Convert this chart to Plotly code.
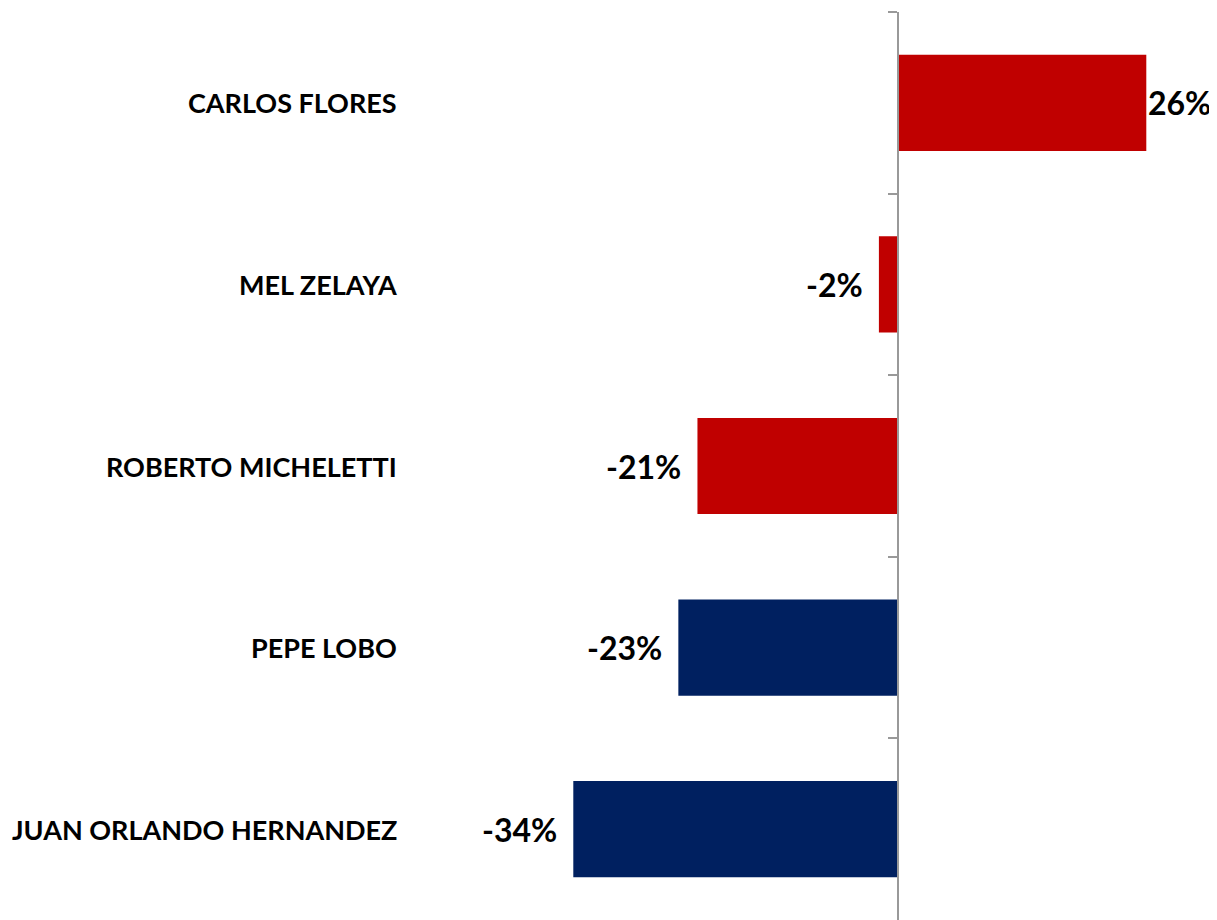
import plotly.graph_objects as go

names = ["CARLOS FLORES", "MEL ZELAYA", "ROBERTO MICHELETTI", "PEPE LOBO", "JUAN ORLANDO HERNANDEZ"]
values = [26, -2, -21, -23, -34]
colors = ["#C00000", "#C00000", "#C00000", "#002060", "#002060"]

# the page body has an 8px margin, so the figure is drawn a bit smaller
OFF = 8
W, H = 1217 - OFF, 920 - OFF
zero_px = 898 - OFF
px_per = 9.55
xmin = -zero_px / px_per
xmax = (W - zero_px) / px_per

fig = go.Figure(go.Bar(
    y=names, x=values, orientation="h",
    marker=dict(color=colors, line=dict(width=0)),
    hoverinfo="skip",
))

# value labels
for n, v in zip(names, values):
    fig.add_annotation(
        x=v, y=n, xref="x", yref="y",
        text="<b>%d%%</b>" % v,
        showarrow=False,
        xanchor="left" if v > 0 else "right",
        xshift=0 if v > 0 else -14,
        font=dict(family="Lato", size=32, color="#000000"),
    )

# category labels on the left
for n in names:
    fig.add_annotation(
        x=(399 - OFF) / W, y=n, xref="paper", yref="y",
        text="<b>%s</b>" % n,
        showarrow=False, xanchor="right",
        font=dict(family="Lato", size=27, color="#000000"),
    )

fig.update_layout(
    width=W, height=H,
    margin=dict(l=0, r=0, t=4, b=0),
    paper_bgcolor="white", plot_bgcolor="white",
    bargap=0.47,
    showlegend=False,
    xaxis=dict(range=[xmin, xmax], visible=False, fixedrange=True),
    yaxis=dict(
        autorange="reversed",
        anchor="free", position=zero_px / W,
        showline=True, linecolor="#999999", linewidth=2,
        ticks="outside", tickson="boundaries", ticklen=9,
        tickcolor="#999999", tickwidth=2,
        showticklabels=False, showgrid=False, zeroline=False,
    ),
)

fig.write_html("out.html")
